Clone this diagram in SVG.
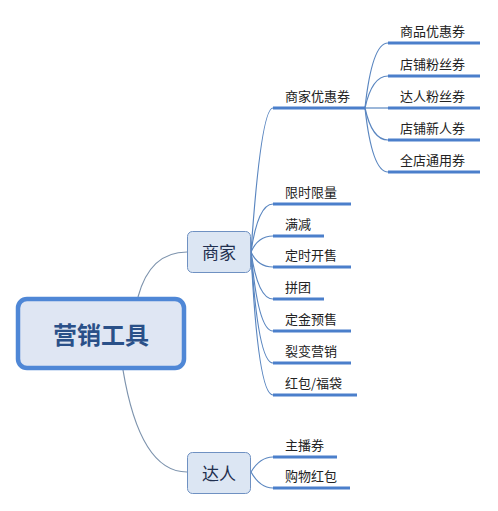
<svg xmlns="http://www.w3.org/2000/svg" width="498" height="511" viewBox="0 0 498 511">
<style>
.t{font-family:"Noto Sans CJK SC","Noto Sans",sans-serif;font-size:13px;fill:#222}
.c{fill:none;stroke:#5a86c0;stroke-width:1.2}
.r{fill:none;stroke:#7d93ad;stroke-width:1.2}
.u{stroke:#4b7fcb;stroke-width:3;stroke-linecap:butt}
.box{fill:#dce6f3;stroke:#6f91c2;stroke-width:1}
.bt{font-family:"Noto Sans CJK SC","Noto Sans",sans-serif;font-size:17px;fill:#1f2f4f;text-anchor:middle}
</style>
<rect width="498" height="511" fill="#ffffff"/>
<g id="connectors">
<path class="r" d="M138,297 Q150,252 187,252"/>
<path class="r" d="M123,370 Q140,472 187,472"/>
<path class="c" d="M251,252 Q261,108 273,108"/>
<path class="c" d="M251,252 Q258,204 273,204"/>
<path class="c" d="M251,252 Q258,236 273,236"/>
<path class="c" d="M251,252 Q258,267 273,267"/>
<path class="c" d="M251,252 Q258,299 273,299"/>
<path class="c" d="M251,252 Q258,331 273,331"/>
<path class="c" d="M251,252 Q258,363 273,363"/>
<path class="c" d="M251,252 Q258,395 273,395"/>
<path class="c" d="M365,108 Q372,43 388,43"/>
<path class="c" d="M365,108 Q372,76 388,76"/>
<path class="c" d="M365,108 L388,108"/>
<path class="c" d="M365,108 Q372,140 388,140"/>
<path class="c" d="M365,108 Q372,172 388,172"/>
<path class="c" d="M251,472 Q260,457 273,457"/>
<path class="c" d="M251,472 Q260,488 273,488"/>
</g>
<g id="root">
<rect x="18" y="299" width="166" height="69" rx="9" fill="#dfe6f3" stroke="#4f87d6" stroke-width="4.5"/>
<text x="101" y="344" font-family="Noto Sans CJK SC,Noto Sans,sans-serif" font-size="24" font-weight="bold" fill="#2a5088" text-anchor="middle">营销工具</text>
</g>
<g id="shangjia">
<rect class="box" x="187.5" y="231.5" width="63" height="41" rx="5"/>
<text class="bt" x="219" y="259">商家</text>
</g>
<g id="daren">
<rect class="box" x="187.5" y="452.5" width="63" height="41" rx="5"/>
<text class="bt" x="219" y="480">达人</text>
</g>
<g id="shangjiayouhuiquan">
<line class="u" x1="273" y1="108" x2="365" y2="108"/>
<text class="t" x="285" y="101">商家优惠券</text>
</g>
<g id="shangpin"><line class="u" x1="388" y1="43" x2="480" y2="43"/><text class="t" x="400" y="36">商品优惠券</text></g>
<g id="dianpufensi"><line class="u" x1="388" y1="76" x2="480" y2="76"/><text class="t" x="400" y="69">店铺粉丝券</text></g>
<g id="darenfensi"><line class="u" x1="388" y1="108" x2="480" y2="108"/><text class="t" x="400" y="101">达人粉丝券</text></g>
<g id="dianpuxinren"><line class="u" x1="388" y1="140" x2="480" y2="140"/><text class="t" x="400" y="133">店铺新人券</text></g>
<g id="quandian"><line class="u" x1="388" y1="172" x2="480" y2="172"/><text class="t" x="400" y="165">全店通用券</text></g>
<g id="xianshi"><line class="u" x1="273" y1="204" x2="351" y2="204"/><text class="t" x="285" y="197">限时限量</text></g>
<g id="manjian"><line class="u" x1="273" y1="236" x2="324" y2="236"/><text class="t" x="285" y="229">满减</text></g>
<g id="dingshi"><line class="u" x1="273" y1="267" x2="351" y2="267"/><text class="t" x="285" y="260">定时开售</text></g>
<g id="pintuan"><line class="u" x1="273" y1="299" x2="324" y2="299"/><text class="t" x="285" y="292">拼团</text></g>
<g id="dingjin"><line class="u" x1="273" y1="331" x2="351" y2="331"/><text class="t" x="285" y="324">定金预售</text></g>
<g id="liebian"><line class="u" x1="273" y1="363" x2="351" y2="363"/><text class="t" x="285" y="356">裂变营销</text></g>
<g id="hongbao"><line class="u" x1="273" y1="395" x2="357" y2="395"/><text class="t" x="285" y="388">红包/福袋</text></g>
<g id="zhubo"><line class="u" x1="273" y1="457" x2="337" y2="457"/><text class="t" x="285" y="450">主播券</text></g>
<g id="gouwu"><line class="u" x1="273" y1="488" x2="350" y2="488"/><text class="t" x="285" y="481">购物红包</text></g>
</svg>
